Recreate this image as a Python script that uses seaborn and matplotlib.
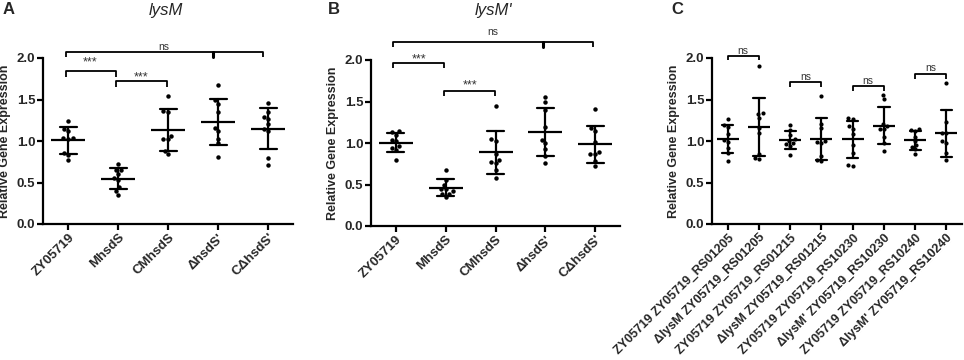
import matplotlib
matplotlib.use("Agg")
import matplotlib.pyplot as plt
import seaborn as sns
import pandas as pd

sns.set_theme(style="ticks")
plt.rcParams['font.family'] = ['Liberation Sans', 'DejaVu Sans']

# ---------------- data ----------------
groups_ab = ["ZY05719", "MhsdS", "CMhsdS", "\u0394hsdS'", "C\u0394hsdS'"]

lysM_ZY05719 = [1.24, 1.15, 1.12, 1.04, 1.04, 1.03, 0.85, 0.83, 0.77]
lysM_MhsdS = [0.72, 0.65, 0.65, 0.60, 0.56, 0.53, 0.44, 0.40, 0.35]
lysM_CMhsdS = [1.54, 1.36, 1.35, 1.06, 1.03, 1.02, 0.88, 0.84]
lysM_dhsdS = [1.67, 1.49, 1.45, 1.35, 1.16, 1.12, 1.03, 0.97, 0.81]
lysM_CdhsdS = [1.46, 1.35, 1.29, 1.27, 1.20, 1.14, 1.12, 0.80, 0.71]

lysMp_ZY05719 = [1.14, 1.13, 1.10, 1.04, 1.02, 0.96, 0.94, 0.92, 0.79]
lysMp_MhsdS = [0.67, 0.55, 0.50, 0.45, 0.45, 0.42, 0.39, 0.385, 0.35]
lysMp_CMhsdS = [1.44, 1.05, 1.03, 0.87, 0.80, 0.77, 0.76, 0.68, 0.58]
lysMp_dhsdS = [1.56, 1.49, 1.40, 1.19, 1.04, 1.00, 0.93, 0.84, 0.755]
lysMp_CdhsdS = [1.41, 1.18, 1.15, 1.01, 0.89, 0.87, 0.87, 0.78, 0.72]

groups_c = ["ZY05719 ZY05719_RS01205", "\u0394lysM ZY05719_RS01205",
            "ZY05719 ZY05719_RS01215", "\u0394lysM ZY05719_RS01215",
            "ZY05719 ZY05719_RS10230", "\u0394lysM' ZY05719_RS10230",
            "ZY05719 ZY05719_RS10240", "\u0394lysM' ZY05719_RS10240"]
c_wt_01205 = [1.27, 1.19, 1.17, 1.08, 1.01, 0.99, 0.91, 0.85, 0.76]
c_mut_01205 = [1.90, 1.34, 1.33, 1.28, 1.16, 1.10, 0.84, 0.80, 0.78]
c_wt_01215 = [1.19, 1.13, 1.07, 1.02, 1.00, 0.98, 0.96, 0.94, 0.83]
c_mut_01215 = [1.54, 1.21, 1.16, 1.00, 0.99, 0.98, 0.82, 0.77, 0.76]
c_wt_10230 = [1.28, 1.27, 1.18, 1.15, 1.08, 0.95, 0.85, 0.71, 0.70]
c_mut_10230 = [1.56, 1.51, 1.20, 1.18, 1.15, 1.14, 1.05, 0.98, 0.88]
c_wt_10240 = [1.14, 1.13, 1.12, 1.05, 1.00, 0.95, 0.93, 0.90, 0.84]
c_mut_10240 = [1.70, 1.23, 1.10, 1.10, 1.00, 0.98, 0.85, 0.77]

titles = ["lysM", "lysM'", ""]
letters = ["A", "B", "C"]
ylabel = "Relative Gene Expression"


def frame(groups, series):
    rows = []
    for g, vals in zip(groups, series):
        for v in vals:
            rows.append({"group": g, "value": v})
    return pd.DataFrame(rows)


df_a = frame(groups_ab, [lysM_ZY05719, lysM_MhsdS, lysM_CMhsdS, lysM_dhsdS, lysM_CdhsdS])
df_b = frame(groups_ab, [lysMp_ZY05719, lysMp_MhsdS, lysMp_CMhsdS, lysMp_dhsdS, lysMp_CdhsdS])
df_c = frame(groups_c, [c_wt_01205, c_mut_01205, c_wt_01215, c_mut_01215,
                        c_wt_10230, c_mut_10230, c_wt_10240, c_mut_10240])

fig = plt.figure(figsize=(9.64, 3.6), dpi=100)
ax_a = fig.add_axes([43 / 964, 1 - 224 / 360, 250 / 964, 166 / 360])
ax_b = fig.add_axes([371 / 964, 1 - 226 / 360, 249 / 964, 166 / 360])
ax_c = fig.add_axes([712 / 964, 1 - 224 / 360, 250 / 964, 166 / 360])

LW = 1.6


def draw(ax, df, order, mean_w, cap, dot):
    sns.swarmplot(data=df, x="group", y="value", order=order, color="black",
                  size=dot, ax=ax, zorder=3)
    sns.pointplot(data=df, x="group", y="value", order=order, color="black",
                  errorbar="sd", capsize=cap, linestyle="none", marker="_",
                  markersize=mean_w, markeredgewidth=LW,
                  err_kws={"linewidth": LW}, ax=ax, zorder=4)
    ax.set_xlim(-0.5, len(order) - 0.5)
    ax.set_ylim(0, 2.0)
    ax.set_yticks([0, 0.5, 1.0, 1.5, 2.0])
    ax.set_yticklabels(["0.0", "0.5", "1.0", "1.5", "2.0"], fontweight="bold", fontsize=9.5)
    ax.set_xticks(range(len(order)))
    ax.set_xlabel("")
    ax.set_ylabel(ylabel, fontweight="bold", fontsize=9.0)
    ax.yaxis.set_label_coords(-0.128, 0.5)
    for s in ["top", "right"]:
        ax.spines[s].set_visible(False)
    for s in ["left", "bottom"]:
        ax.spines[s].set_linewidth(LW)
        ax.spines[s].set_color("black")
    ax.tick_params(axis="both", width=LW, length=4, color="black", pad=1.5)


def bracket(ax, x0, x1, top, drop, text, ty, mids=(), fs=7.5):
    kw = dict(color="black", lw=1.3, clip_on=False, solid_capstyle="butt")
    ax.plot([x0, x0, x1, x1], [top - drop, top, top, top - drop], **kw)
    for m in mids:
        ax.plot([m, m], [top, top - drop], color="black", lw=2.2, clip_on=False)
    ax.text((x0 + x1) / 2, ty, text, ha="center", va="center", fontsize=fs,
            color="#333333", clip_on=False)


draw(ax_a, df_a, groups_ab, 24, 0.34, 3.2)
draw(ax_b, df_b, groups_ab, 24, 0.34, 3.2)
draw(ax_c, df_c, groups_c, 16, 0.36, 3.0)

for ax in (ax_a, ax_b):
    ax.set_xticklabels(groups_ab, rotation=45, ha="right", rotation_mode="anchor",
                       fontweight="bold", fontsize=9.5)
ax_c.set_xticklabels(groups_c, rotation=45, ha="right", rotation_mode="anchor",
                     fontweight="bold", fontsize=9.0)

# significance brackets
bracket(ax_a, -0.05, 3.9, 2.07, 0.06, "ns", 2.13, mids=[2.9])
bracket(ax_a, -0.05, 0.95, 1.84, 0.065, "***", 1.95, fs=9)
bracket(ax_a, 0.95, 1.97, 1.72, 0.07, "***", 1.76, fs=9)

bracket(ax_b, -0.05, 3.95, 2.22, 0.06, "ns", 2.34, mids=[2.95])
bracket(ax_b, -0.05, 0.97, 1.96, 0.06, "***", 2.01, fs=9)
bracket(ax_b, 0.97, 1.99, 1.63, 0.06, "***", 1.69, fs=9)

bracket(ax_c, 0, 1, 2.02, 0.05, "ns", 2.08)
bracket(ax_c, 2, 3, 1.71, 0.065, "ns", 1.77)
bracket(ax_c, 4, 5, 1.66, 0.06, "ns", 1.72)
bracket(ax_c, 6, 7, 1.81, 0.06, "ns", 1.875)

# titles and panel letters
fig.text(166 / 964, 1 - 10 / 360, titles[0], ha="center", va="center",
         fontsize=12, style="italic")
fig.text(493 / 964, 1 - 10 / 360, titles[1], ha="center", va="center",
         fontsize=12, style="italic")
for x, l in zip([9, 334, 677], letters):
    fig.text(x / 964, 1 - 10 / 360, l, ha="center", va="center",
             fontsize=12, fontweight="bold")

fig.savefig("out.png", dpi=100)
